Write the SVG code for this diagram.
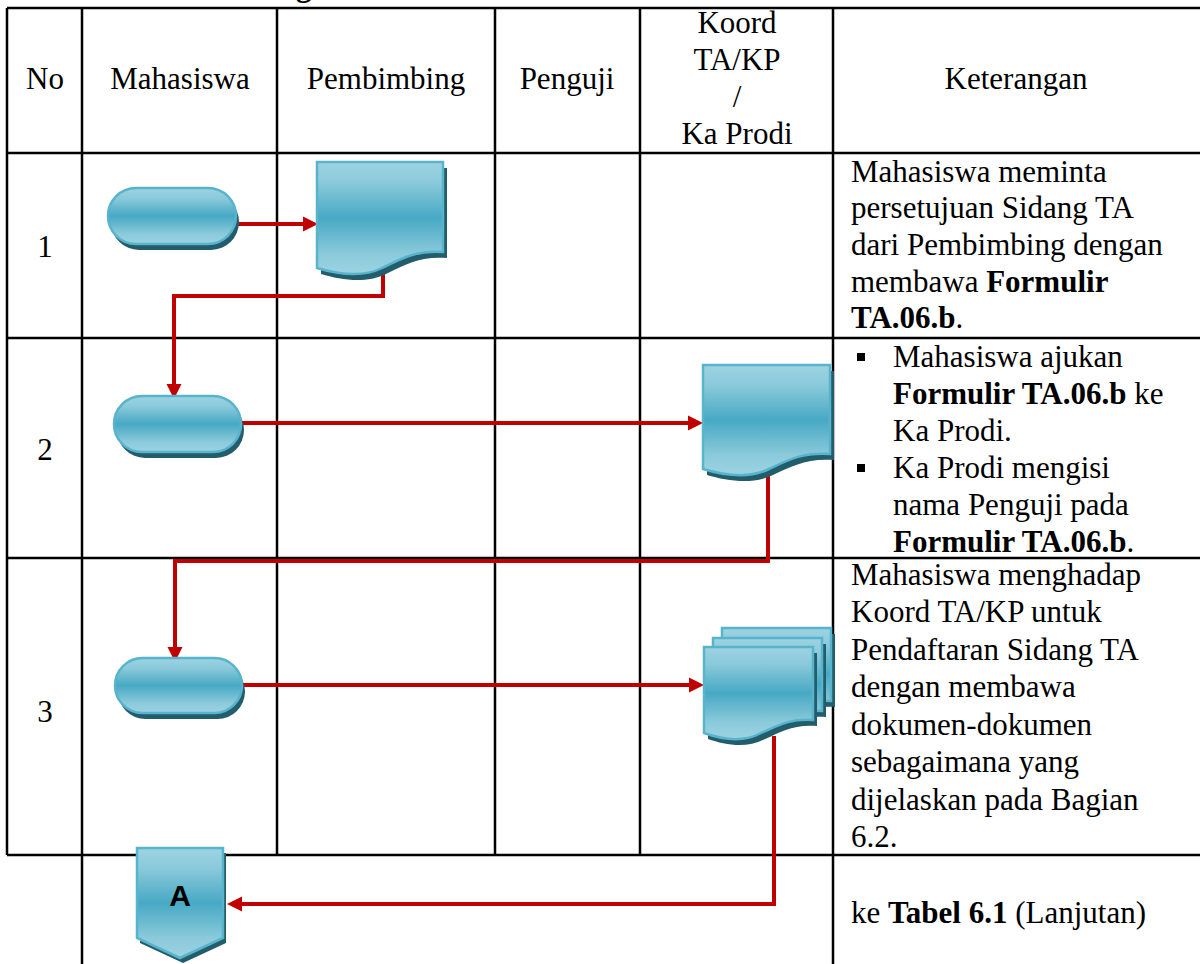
<svg xmlns="http://www.w3.org/2000/svg" width="1200" height="964" viewBox="0 0 1200 964">
  <style>
    .grid { stroke:#000; stroke-width:2.5; fill:none; }
    .t { font-family:"Liberation Serif","Times New Roman",serif; font-size:31px; fill:#000; }
    .c { text-anchor:middle; }
    .b { font-weight:bold; }
    .conn { stroke:#c00000; stroke-width:4; fill:none; marker-end:url(#arrow); }
    .shape { fill:url(#fillGrad); stroke:#57b4cc; stroke-width:2.5; }
    .shadow { fill:#235d6c; }
    .lbl { font-family:"Liberation Sans",Arial,sans-serif; font-size:30px; font-weight:bold; fill:#000; text-anchor:middle; }
  </style>
  <defs>
    <linearGradient id="fillGrad" x1="0" y1="0" x2="0" y2="1">
      <stop offset="0" stop-color="#9dd3e2"/>
      <stop offset="0.18" stop-color="#8bcadb"/>
      <stop offset="0.5" stop-color="#47a9c4"/>
      <stop offset="0.82" stop-color="#8bcadb"/>
      <stop offset="1" stop-color="#9dd3e2"/>
    </linearGradient>
    <marker id="arrow" markerUnits="userSpaceOnUse" markerWidth="16" markerHeight="16" viewBox="0 0 16 16" refX="7" refY="8" orient="auto">
      <path d="M0 0.5 L15 8 L0 15.5 Z" fill="#c00000"/>
    </marker>
  </defs>

  <rect width="1200" height="964" fill="#fff"/>

  <!-- caption line above the table, cut by the page edge -->
  <text class="t b" x="296" y="-4" font-size="34">g</text>

  <!-- table grid -->
  <g id="grid" class="grid">
    <line x1="7" y1="8" x2="1200" y2="8"/>
    <line x1="7" y1="153" x2="1200" y2="153"/>
    <line x1="7" y1="338" x2="1200" y2="338"/>
    <line x1="7" y1="558" x2="1200" y2="558"/>
    <line x1="7" y1="855" x2="1200" y2="855"/>
    <line x1="7" y1="8" x2="7" y2="855"/>
    <line x1="82" y1="8" x2="82" y2="964"/>
    <line x1="277" y1="8" x2="277" y2="855"/>
    <line x1="495" y1="8" x2="495" y2="855"/>
    <line x1="640" y1="8" x2="640" y2="855"/>
    <line x1="833" y1="8" x2="833" y2="964"/>
  </g>

  <!-- header -->
  <g id="header">
    <text class="t c" x="45" y="89">No</text>
    <text class="t c" x="180" y="89">Mahasiswa</text>
    <text class="t c" x="386" y="89">Pembimbing</text>
    <text class="t c" x="567" y="89">Penguji</text>
    <text class="t c" x="737" y="33">Koord</text>
    <text class="t c" x="737" y="70">TA/KP</text>
    <text class="t c" x="737" y="107">/</text>
    <text class="t c" x="737" y="144">Ka Prodi</text>
    <text class="t c" x="1016" y="89">Keterangan</text>
  </g>

  <!-- row numbers -->
  <g id="numbers">
    <text class="t c" x="45" y="257">1</text>
    <text class="t c" x="45" y="460">2</text>
    <text class="t c" x="45" y="722">3</text>
  </g>

  <!-- descriptions -->
  <g id="desc1">
    <text class="t" x="851" y="182">Mahasiswa meminta</text>
    <text class="t" x="851" y="218">persetujuan Sidang TA</text>
    <text class="t" x="851" y="255">dari Pembimbing dengan</text>
    <text class="t" x="851" y="292">membawa <tspan class="b">Formulir</tspan></text>
    <text class="t" x="851" y="328"><tspan class="b">TA.06.b</tspan>.</text>
  </g>
  <g id="desc2">
    <rect x="857" y="353" width="8" height="8" fill="#000"/>
    <rect x="857" y="464" width="8" height="8" fill="#000"/>
    <text class="t" x="893" y="367">Mahasiswa ajukan</text>
    <text class="t" x="893" y="404"><tspan class="b">Formulir TA.06.b</tspan> ke</text>
    <text class="t" x="893" y="441">Ka Prodi.</text>
    <text class="t" x="893" y="478">Ka Prodi mengisi</text>
    <text class="t" x="893" y="515">nama Penguji pada</text>
    <text class="t" x="893" y="552"><tspan class="b">Formulir TA.06.b</tspan>.</text>
  </g>
  <g id="desc3">
    <text class="t" x="851" y="585">Mahasiswa menghadap</text>
    <text class="t" x="851" y="622">Koord TA/KP untuk</text>
    <text class="t" x="851" y="660">Pendaftaran Sidang TA</text>
    <text class="t" x="851" y="697">dengan membawa</text>
    <text class="t" x="851" y="735">dokumen-dokumen</text>
    <text class="t" x="851" y="772">sebagaimana yang</text>
    <text class="t" x="851" y="810">dijelaskan pada Bagian</text>
    <text class="t" x="851" y="847">6.2.</text>
  </g>
  <g id="desc4">
    <text class="t" x="851" y="923">ke <tspan class="b">Tabel 6.1</tspan> (Lanjutan)</text>
  </g>

  <!-- connectors -->
  <g id="connectors">
    <path class="conn" d="M236 224 H310"/>
    <path class="conn" d="M383 272 V296 H174 V391"/>
    <path class="conn" d="M240 423 H695"/>
    <path class="conn" d="M768 474 V561 H175 V654"/>
    <path class="conn" d="M240 685 H696"/>
    <path class="conn" d="M774 736 V904 H235"/>
  </g>

  <!-- step 1 -->
  <g id="start1">
    <rect class="shadow" x="111" y="194" width="128" height="56" rx="28"/>
    <rect class="shape" x="108" y="188" width="128" height="56" rx="28"/>
  </g>
  <g id="doc1">
    <path class="shadow" d="M321 168 H447 V258 C421 256 406 264 386 274 C366 284 341 280 321 274 Z"/>
    <path class="shape" d="M317 162 H443 V252 C417 250 402 258 382 268 C362 278 337 274 317 268 Z"/>
  </g>

  <!-- step 2 -->
  <g id="start2">
    <rect class="shadow" x="117" y="402" width="127" height="56" rx="28"/>
    <rect class="shape" x="114" y="396" width="127" height="56" rx="28"/>
  </g>
  <g id="doc2">
    <path class="shadow" d="M707 371 H834 V460 C807 458 792 466 773 475 C753 485 727 481 707 475 Z"/>
    <path class="shape" d="M703 365 H830 V454 C803 452 788 460 769 469 C749 479 723 475 703 469 Z"/>
  </g>

  <!-- step 3 -->
  <g id="start3">
    <rect class="shadow" x="118" y="664" width="127" height="55" rx="27.5"/>
    <rect class="shape" x="115" y="658" width="127" height="55" rx="27.5"/>
  </g>
  <g id="docs3">
    <path class="shadow" d="M726 634 H835 V707 C812 705 799 713 783 720 C765 730 743 726 726 720 Z"/>
    <path class="shape" d="M722 628 H831 V701 C808 699 795 707 779 714 C761 724 739 720 722 714 Z"/>
    <path class="shadow" d="M717 644 H826 V717 C803 715 790 723 774 730 C756 740 734 736 717 730 Z"/>
    <path class="shape" d="M713 638 H822 V711 C799 709 786 717 770 724 C752 734 730 730 713 724 Z"/>
    <path class="shadow" d="M708 653 H817 V726 C794 724 781 732 765 739 C747 749 725 745 708 739 Z"/>
    <path class="shape" d="M704 647 H813 V720 C790 718 777 726 761 733 C743 743 721 739 704 733 Z"/>
  </g>

  <!-- off-page connector -->
  <g id="offpageA">
    <path class="shadow" d="M140 853 H226 V943 L183 963 L140 943 Z"/>
    <path class="shape" d="M137 848 H223 V938 L180 958 L137 938 Z"/>
    <text class="lbl" x="180" y="906">A</text>
  </g>
</svg>
